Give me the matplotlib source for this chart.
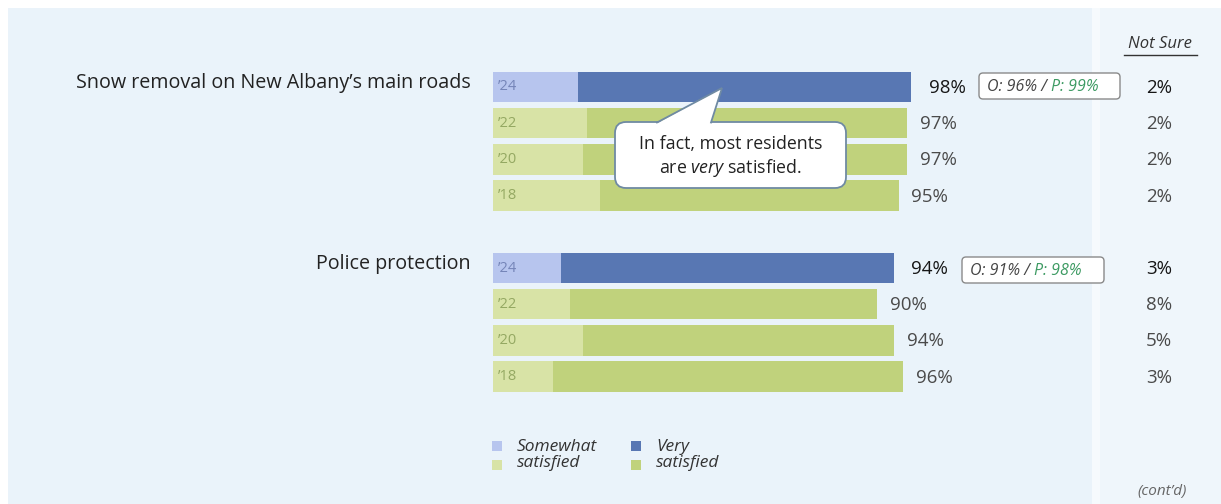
import matplotlib
matplotlib.use("Agg")
import matplotlib.pyplot as plt
from matplotlib.patches import Rectangle, FancyBboxPatch, Polygon

plt.rcParams['font.family'] = ['Open Sans', 'DejaVu Sans']
plt.rcParams['mathtext.fontset'] = 'custom'
plt.rcParams['mathtext.rm'] = 'Open Sans'
plt.rcParams['mathtext.it'] = 'Open Sans:italic'

# ---------------- data ----------------
items = ["Snow removal on New Albany\u2019s main roads", "Police protection"]
years = ["\u201924", "\u201922", "\u201920", "\u201918"]
snow_somewhat = [20, 22, 21, 25]
snow_very = [78, 75, 76, 70]
snow_total = [98, 97, 97, 95]
snow_notsure = [2, 2, 2, 2]
police_somewhat = [16, 18, 21, 14]
police_very = [78, 72, 73, 82]
police_total = [94, 90, 94, 96]
police_notsure = [3, 8, 5, 3]
op_snow = ("O: 96%", "P: 99%")
op_police = ("O: 91%", "P: 98%")
legend_labels = ["Somewhat\nsatisfied", "Very\nsatisfied"]

# ---------------- colors ----------------
C_BLUE_DARK = "#5877b3"
C_BLUE_LIGHT = "#b7c5ee"
C_GREEN_DARK = "#c0d27c"
C_GREEN_LIGHT = "#d8e3a6"
BG = "#eaf3fa"
BG_RIGHT = "#eff6fb"

W, H = 1221, 504
fig = plt.figure(figsize=(W / 100, H / 100), dpi=100)
fig.patch.set_facecolor("white")

# background axes in pixel coords
bg = fig.add_axes([0, 0, 1, 1], zorder=0)
bg.set_xlim(0, W); bg.set_ylim(H, 0); bg.axis("off")
bg.add_patch(Rectangle((8, 8), 1084, H - 8, fc=BG, ec="none"))
bg.add_patch(Rectangle((1100, 8), W - 1100, H - 8, fc=BG_RIGHT, ec="none"))
bg.add_patch(Rectangle((1092, 8), 8, H - 8, fc="#f6fafd", ec="none"))

# bar axes: x 0..100 -> px 493..920 ; rows pitch 36.2 px, row 0 centre at 87 px
X0, X1 = 493, 920
R0, P = 87, 36.2
top_px = R0 - P / 2
bot_px = R0 + 8 * P + P / 2
ax = fig.add_axes([X0 / W, 1 - bot_px / H, (X1 - X0) / W, (bot_px - top_px) / H], zorder=1)
ax.set_xlim(0, 100)
ax.set_ylim(8.5, -0.5)
ax.axis("off")
ax.patch.set_alpha(0)

def px2x(px):
    return (px - X0) / (X1 - X0) * 100

groups = [
    (0, snow_somewhat, snow_very, snow_total, snow_notsure),
    (5, police_somewhat, police_very, police_total, police_notsure),
]
bh = 0.84
for start, sw, vs, tot, ns in groups:
    rows = [start + i for i in range(len(years))]
    for i, r in enumerate(rows):
        first = i == 0
        c_l = C_BLUE_LIGHT if first else C_GREEN_LIGHT
        c_d = C_BLUE_DARK if first else C_GREEN_DARK
        ax.barh(r, sw[i], height=bh, color=c_l, lw=0)
        ax.barh(r, vs[i], left=sw[i], height=bh, color=c_d, lw=0)
        ax.text(1.2, r, years[i], va="center", ha="left", fontsize=10.5,
                color="#7585b8" if first else "#94a862")
        ax.text(tot[i] + (4.0 if first else 3.0), r + 0.03, f"{tot[i]}%", va="center", ha="left",
                fontsize=13.5, color="#161616" if first else "#4a4a4a", clip_on=False)
        ax.text(px2x(1172), r + 0.03, f"{ns[i]}%", va="center", ha="right",
                fontsize=13.5, color="#161616" if first else "#4a4a4a", clip_on=False)

# item labels
for (start, *_), name in zip(groups, items):
    ax.text(px2x(471), start - 0.12, name, ha="right", va="center", fontsize=14.2,
            color="#222222", clip_on=False)

# foreground axes for decorations (pixel coords)
fg = fig.add_axes([0, 0, 1, 1], zorder=2)
fg.set_xlim(0, W); fg.set_ylim(H, 0); fg.axis("off"); fg.patch.set_alpha(0)

# Not Sure header
fg.text(1160, 44, "Not Sure", ha="center", va="center", fontsize=12, style="italic", color="#333333")
fg.plot([1124, 1197], [55, 55], color="#333333", lw=1)

# O / P boxes
def op_box(x0, x1, yc, op):
    fg.add_patch(FancyBboxPatch((x0, yc - 13), x1 - x0, 26,
                                boxstyle="round,pad=0,rounding_size=4",
                                fc="white", ec="#8a8a8a", lw=1))
    t1 = fg.text(x0 + 8, yc + 1, op[0] + " / ", ha="left", va="center", fontsize=11.5,
                 style="italic", color="#444444")
    fg.annotate(op[1], xy=(1, 0), xycoords=t1, ha="left", va="bottom", fontsize=11.5,
                style="italic", color="#3c9a62")

op_box(979, 1120, 86, op_snow)
op_box(962, 1104, 270, op_police)

# callout
bx0, bx1, by0, by1 = 615, 846, 122, 188
fg.add_patch(FancyBboxPatch((bx0, by0), bx1 - bx0, by1 - by0,
                            boxstyle="round,pad=0,rounding_size=11",
                            fc="white", ec="#6f8aa3", lw=1.3))
tail = [(657, by0 + 1.5), (722, 88), (711, by0 + 1.5)]
fg.add_patch(Polygon(tail, closed=True, fc="white", ec="none"))
fg.plot([657, 722, 711], [by0 + 0.5, 88, by0 + 0.5], color="#6f8aa3", lw=1.3,
        solid_joinstyle="miter")
fg.text((bx0 + bx1) / 2, 144, "In fact, most residents", ha="center", va="center",
        fontsize=12.8, color="#222222")
fg.text((bx0 + bx1) / 2, 168, "are $\\mathit{very}$ satisfied.", ha="center", va="center",
        fontsize=12.8, color="#222222")

# legend
leg_items = [(497, C_BLUE_LIGHT, C_GREEN_LIGHT, legend_labels[0]),
             (636, C_BLUE_DARK, C_GREEN_DARK, legend_labels[1])]
for x, c1, c2, lab in leg_items:
    fg.add_patch(Rectangle((x - 5, 441), 10, 10, fc=c1, ec="none"))
    fg.add_patch(Rectangle((x - 5, 460), 10, 10, fc=c2, ec="none"))
    fg.text(x + 20, 455, lab, ha="left", va="center", fontsize=12.5, style="italic",
            color="#333333", linespacing=1.0)

fg.text(1162, 492, "(cont\u2019d)", ha="center", va="center", fontsize=11, style="italic",
        color="#666666")

fig.savefig("out.png", dpi=100, facecolor=fig.get_facecolor())
